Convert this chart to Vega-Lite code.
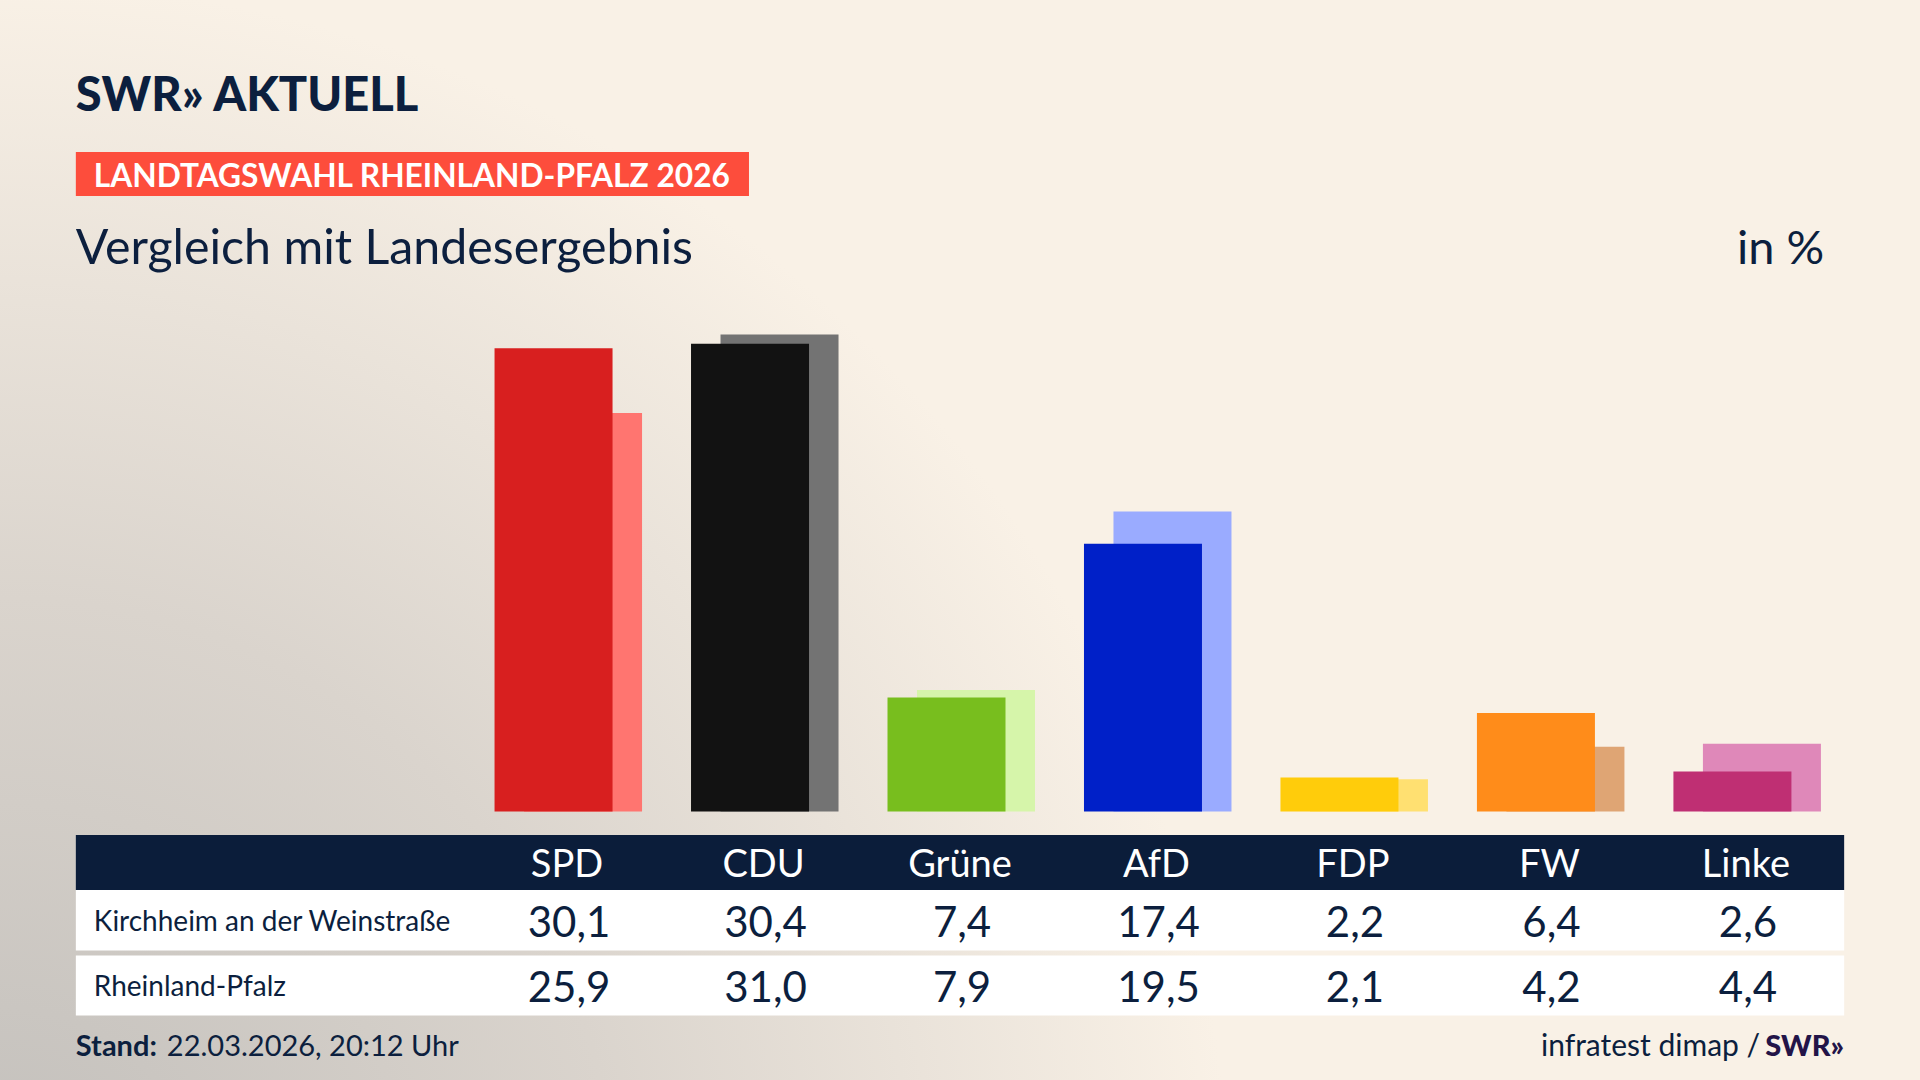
{
  "$schema": "https://vega.github.io/schema/vega-lite/v6.json",
  "width": 1920,
  "height": 1080,
  "autosize": {"type": "fit", "contains": "padding"},
  "padding": 0,
  "background": "#f9f1e6",
  "config": {
    "view": {"stroke": null},
    "locale": {"number": {"decimal": ",", "thousands": ".", "grouping": [3], "currency": ["", " €"]}},
    "text": {"font": "Lato"}
  },
  "datasets": {
    "results": [
      {"party": "SPD", "local": 30.1, "state": 25.9},
      {"party": "CDU", "local": 30.4, "state": 31.0},
      {"party": "Grüne", "local": 7.4, "state": 7.9},
      {"party": "AfD", "local": 17.4, "state": 19.5},
      {"party": "FDP", "local": 2.2, "state": 2.1},
      {"party": "FW", "local": 6.4, "state": 4.2},
      {"party": "Linke", "local": 2.6, "state": 4.4}
    ]
  },
  "resolve": {"scale": {"color": "independent"}},
  "layer": [
    {
      "data": {"values": [{"bg": 1}]},
      "mark": {"type": "rect", "fill": {"gradient": "radial", "x1": 0, "y1": 0.85, "r1": 0, "x2": 0, "y2": 0.85, "r2": 0.64, "stops": [{"offset": 0, "color": "#c2bfbb"}, {"offset": 0.5, "color": "#dad4cd"}, {"offset": 1, "color": "#f9f1e6"}]}},
      "encoding": {}
    },
    {
      "data": {"name": "results"},
      "mark": {"type": "bar", "width": 118, "xOffset": 16},
      "encoding": {
        "x": {"field": "party", "type": "nominal", "scale": {"domain": ["_a", "_b", "SPD", "CDU", "Grüne", "AfD", "FDP", "FW", "Linke"], "paddingInner": 0, "paddingOuter": 0.386}, "axis": null},
        "y": {"field": "state", "type": "quantitative", "scale": {"domain": [-17.45, 52.73], "nice": false, "zero": false}, "axis": null},
        "color": {"field": "party", "type": "nominal", "scale": {"domain": ["SPD", "CDU", "Grüne", "AfD", "FDP", "FW", "Linke"], "range": ["#ff7570", "#737373", "#d6f5aa", "#9aabff", "#ffe071", "#dfa574", "#df88b9"]}, "legend": null}
      }
    },
    {
      "data": {"name": "results"},
      "mark": {"type": "bar", "width": 118, "xOffset": -13.5},
      "encoding": {
        "x": {"field": "party", "type": "nominal", "scale": {"domain": ["_a", "_b", "SPD", "CDU", "Grüne", "AfD", "FDP", "FW", "Linke"], "paddingInner": 0, "paddingOuter": 0.386}, "axis": null},
        "y": {"field": "local", "type": "quantitative", "scale": {"domain": [-17.45, 52.73], "nice": false, "zero": false}, "axis": null},
        "color": {"field": "party", "type": "nominal", "scale": {"domain": ["SPD", "CDU", "Grüne", "AfD", "FDP", "FW", "Linke"], "range": ["#d81f1f", "#121212", "#78be1e", "#0020c8", "#ffcc0b", "#ff8c1a", "#bf2f73"]}, "legend": null}
      }
    },
    {
      "data": {"values": [{"t": "SWR» AKTUELL"}]},
      "mark": {"type": "text", "align": "left", "baseline": "alphabetic", "fontSize": 47, "fontWeight": 900, "color": "#0c1f3e"},
      "encoding": {
        "x": {"datum": "_a", "type": "nominal", "bandPosition": 0, "scale": {"domain": ["_a", "_b", "SPD", "CDU", "Grüne", "AfD", "FDP", "FW", "Linke"], "paddingInner": 0, "paddingOuter": 0.386}, "axis": null},
        "y": {"datum": 45.49, "type": "quantitative", "scale": {"domain": [-17.45, 52.73], "nice": false, "zero": false}, "axis": null},
        "text": {"field": "t"}
      }
    },
    {
      "data": {"values": [{"t": "LANDTAGSWAHL RHEINLAND-PFALZ 2026"}]},
      "mark": {"type": "rect", "color": "#fd4d3c"},
      "encoding": {
        "x": {"datum": "_a", "type": "nominal", "bandPosition": 0, "scale": {"domain": ["_a", "_b", "SPD", "CDU", "Grüne", "AfD", "FDP", "FW", "Linke"], "paddingInner": 0, "paddingOuter": 0.386}, "axis": null},
        "x2": {"datum": "CDU", "bandPosition": 0.426},
        "y": {"datum": 42.86, "type": "quantitative", "scale": {"domain": [-17.45, 52.73], "nice": false, "zero": false}, "axis": null},
        "y2": {"datum": 39.99}
      }
    },
    {
      "data": {"values": [{"t": "LANDTAGSWAHL RHEINLAND-PFALZ 2026"}]},
      "mark": {"type": "text", "align": "left", "baseline": "alphabetic", "fontSize": 31.7, "fontWeight": "bold", "color": "#ffffff", "dx": 18},
      "encoding": {
        "x": {"datum": "_a", "type": "nominal", "bandPosition": 0, "scale": {"domain": ["_a", "_b", "SPD", "CDU", "Grüne", "AfD", "FDP", "FW", "Linke"], "paddingInner": 0, "paddingOuter": 0.386}, "axis": null},
        "y": {"datum": 40.6, "type": "quantitative", "scale": {"domain": [-17.45, 52.73], "nice": false, "zero": false}, "axis": null},
        "text": {"field": "t"}
      }
    },
    {
      "data": {"values": [{"t": "Vergleich mit Landesergebnis"}]},
      "mark": {"type": "text", "align": "left", "baseline": "alphabetic", "fontSize": 48.3, "color": "#0c1f3e"},
      "encoding": {
        "x": {"datum": "_a", "type": "nominal", "bandPosition": 0, "scale": {"domain": ["_a", "_b", "SPD", "CDU", "Grüne", "AfD", "FDP", "FW", "Linke"], "paddingInner": 0, "paddingOuter": 0.386}, "axis": null},
        "y": {"datum": 35.55, "type": "quantitative", "scale": {"domain": [-17.45, 52.73], "nice": false, "zero": false}, "axis": null},
        "text": {"field": "t"}
      }
    },
    {
      "data": {"values": [{"t": "in %"}]},
      "mark": {"type": "text", "align": "right", "baseline": "alphabetic", "fontSize": 47, "color": "#0c1f3e", "dx": -20},
      "encoding": {
        "x": {"datum": "Linke", "type": "nominal", "bandPosition": 1, "scale": {"domain": ["_a", "_b", "SPD", "CDU", "Grüne", "AfD", "FDP", "FW", "Linke"], "paddingInner": 0, "paddingOuter": 0.386}, "axis": null},
        "y": {"datum": 35.55, "type": "quantitative", "scale": {"domain": [-17.45, 52.73], "nice": false, "zero": false}, "axis": null},
        "text": {"field": "t"}
      }
    },
    {
      "data": {"values": [{"row": "header"}]},
      "mark": {"type": "rect", "color": "#0b1d3a"},
      "encoding": {
        "x": {"datum": "_a", "type": "nominal", "bandPosition": 0, "scale": {"domain": ["_a", "_b", "SPD", "CDU", "Grüne", "AfD", "FDP", "FW", "Linke"], "paddingInner": 0, "paddingOuter": 0.386}, "axis": null},
        "x2": {"datum": "Linke", "bandPosition": 1},
        "y": {"datum": -1.527, "type": "quantitative", "scale": {"domain": [-17.45, 52.73], "nice": false, "zero": false}, "axis": null},
        "y2": {"datum": -5.101}
      }
    },
    {
      "data": {"values": [{"row": "Kirchheim an der Weinstraße"}]},
      "mark": {"type": "rect", "color": "#ffffff"},
      "encoding": {
        "x": {"datum": "_a", "type": "nominal", "bandPosition": 0, "scale": {"domain": ["_a", "_b", "SPD", "CDU", "Grüne", "AfD", "FDP", "FW", "Linke"], "paddingInner": 0, "paddingOuter": 0.386}, "axis": null},
        "x2": {"datum": "Linke", "bandPosition": 1},
        "y": {"datum": -5.101, "type": "quantitative", "scale": {"domain": [-17.45, 52.73], "nice": false, "zero": false}, "axis": null},
        "y2": {"datum": -9.032}
      }
    },
    {
      "data": {"values": [{"row": "Rheinland-Pfalz"}]},
      "mark": {"type": "rect", "color": "#ffffff"},
      "encoding": {
        "x": {"datum": "_a", "type": "nominal", "bandPosition": 0, "scale": {"domain": ["_a", "_b", "SPD", "CDU", "Grüne", "AfD", "FDP", "FW", "Linke"], "paddingInner": 0, "paddingOuter": 0.386}, "axis": null},
        "x2": {"datum": "Linke", "bandPosition": 1},
        "y": {"datum": -9.357, "type": "quantitative", "scale": {"domain": [-17.45, 52.73], "nice": false, "zero": false}, "axis": null},
        "y2": {"datum": -13.256}
      }
    },
    {
      "data": {"name": "results"},
      "mark": {"type": "text", "align": "center", "baseline": "alphabetic", "fontSize": 38, "color": "#ffffff"},
      "encoding": {
        "x": {"field": "party", "type": "nominal", "scale": {"domain": ["_a", "_b", "SPD", "CDU", "Grüne", "AfD", "FDP", "FW", "Linke"], "paddingInner": 0, "paddingOuter": 0.386}, "axis": null},
        "y": {"datum": -4.24, "type": "quantitative", "scale": {"domain": [-17.45, 52.73], "nice": false, "zero": false}, "axis": null},
        "text": {"field": "party"}
      }
    },
    {
      "data": {"name": "results"},
      "mark": {"type": "text", "align": "center", "baseline": "alphabetic", "fontSize": 42, "color": "#0c1f3e", "dx": 2},
      "encoding": {
        "x": {"field": "party", "type": "nominal", "scale": {"domain": ["_a", "_b", "SPD", "CDU", "Grüne", "AfD", "FDP", "FW", "Linke"], "paddingInner": 0, "paddingOuter": 0.386}, "axis": null},
        "y": {"datum": -8.14, "type": "quantitative", "scale": {"domain": [-17.45, 52.73], "nice": false, "zero": false}, "axis": null},
        "text": {"field": "local", "type": "quantitative", "format": ".1f"}
      }
    },
    {
      "data": {"name": "results"},
      "mark": {"type": "text", "align": "center", "baseline": "alphabetic", "fontSize": 42, "color": "#0c1f3e", "dx": 2},
      "encoding": {
        "x": {"field": "party", "type": "nominal", "scale": {"domain": ["_a", "_b", "SPD", "CDU", "Grüne", "AfD", "FDP", "FW", "Linke"], "paddingInner": 0, "paddingOuter": 0.386}, "axis": null},
        "y": {"datum": -12.35, "type": "quantitative", "scale": {"domain": [-17.45, 52.73], "nice": false, "zero": false}, "axis": null},
        "text": {"field": "state", "type": "quantitative", "format": ".1f"}
      }
    },
    {
      "data": {"values": [{"t": "Kirchheim an der Weinstraße"}]},
      "mark": {"type": "text", "align": "left", "baseline": "alphabetic", "fontSize": 28, "color": "#0c1f3e", "dx": 18},
      "encoding": {
        "x": {"datum": "_a", "type": "nominal", "bandPosition": 0, "scale": {"domain": ["_a", "_b", "SPD", "CDU", "Grüne", "AfD", "FDP", "FW", "Linke"], "paddingInner": 0, "paddingOuter": 0.386}, "axis": null},
        "y": {"datum": -7.74, "type": "quantitative", "scale": {"domain": [-17.45, 52.73], "nice": false, "zero": false}, "axis": null},
        "text": {"field": "t"}
      }
    },
    {
      "data": {"values": [{"t": "Rheinland-Pfalz"}]},
      "mark": {"type": "text", "align": "left", "baseline": "alphabetic", "fontSize": 28, "color": "#0c1f3e", "dx": 18},
      "encoding": {
        "x": {"datum": "_a", "type": "nominal", "bandPosition": 0, "scale": {"domain": ["_a", "_b", "SPD", "CDU", "Grüne", "AfD", "FDP", "FW", "Linke"], "paddingInner": 0, "paddingOuter": 0.386}, "axis": null},
        "y": {"datum": -11.96, "type": "quantitative", "scale": {"domain": [-17.45, 52.73], "nice": false, "zero": false}, "axis": null},
        "text": {"field": "t"}
      }
    },
    {
      "data": {"values": [{"t": "Stand:"}]},
      "mark": {"type": "text", "align": "left", "baseline": "alphabetic", "fontSize": 29, "fontWeight": "bold", "color": "#0c1f3e"},
      "encoding": {
        "x": {"datum": "_a", "type": "nominal", "bandPosition": 0, "scale": {"domain": ["_a", "_b", "SPD", "CDU", "Grüne", "AfD", "FDP", "FW", "Linke"], "paddingInner": 0, "paddingOuter": 0.386}, "axis": null},
        "y": {"datum": -15.86, "type": "quantitative", "scale": {"domain": [-17.45, 52.73], "nice": false, "zero": false}, "axis": null},
        "text": {"field": "t"}
      }
    },
    {
      "data": {"values": [{"t": "22.03.2026, 20:12 Uhr"}]},
      "mark": {"type": "text", "align": "left", "baseline": "alphabetic", "fontSize": 29, "color": "#0c1f3e", "dx": 91},
      "encoding": {
        "x": {"datum": "_a", "type": "nominal", "bandPosition": 0, "scale": {"domain": ["_a", "_b", "SPD", "CDU", "Grüne", "AfD", "FDP", "FW", "Linke"], "paddingInner": 0, "paddingOuter": 0.386}, "axis": null},
        "y": {"datum": -15.86, "type": "quantitative", "scale": {"domain": [-17.45, 52.73], "nice": false, "zero": false}, "axis": null},
        "text": {"field": "t"}
      }
    },
    {
      "data": {"values": [{"t": "infratest dimap /"}]},
      "mark": {"type": "text", "align": "right", "baseline": "alphabetic", "fontSize": 30, "color": "#0c1f3e", "dx": -84},
      "encoding": {
        "x": {"datum": "Linke", "type": "nominal", "bandPosition": 1, "scale": {"domain": ["_a", "_b", "SPD", "CDU", "Grüne", "AfD", "FDP", "FW", "Linke"], "paddingInner": 0, "paddingOuter": 0.386}, "axis": null},
        "y": {"datum": -15.86, "type": "quantitative", "scale": {"domain": [-17.45, 52.73], "nice": false, "zero": false}, "axis": null},
        "text": {"field": "t"}
      }
    },
    {
      "data": {"values": [{"t": "SWR»"}]},
      "mark": {"type": "text", "align": "right", "baseline": "alphabetic", "fontSize": 29, "fontWeight": 900, "color": "#231448"},
      "encoding": {
        "x": {"datum": "Linke", "type": "nominal", "bandPosition": 1, "scale": {"domain": ["_a", "_b", "SPD", "CDU", "Grüne", "AfD", "FDP", "FW", "Linke"], "paddingInner": 0, "paddingOuter": 0.386}, "axis": null},
        "y": {"datum": -15.86, "type": "quantitative", "scale": {"domain": [-17.45, 52.73], "nice": false, "zero": false}, "axis": null},
        "text": {"field": "t"}
      }
    }
  ]
}
